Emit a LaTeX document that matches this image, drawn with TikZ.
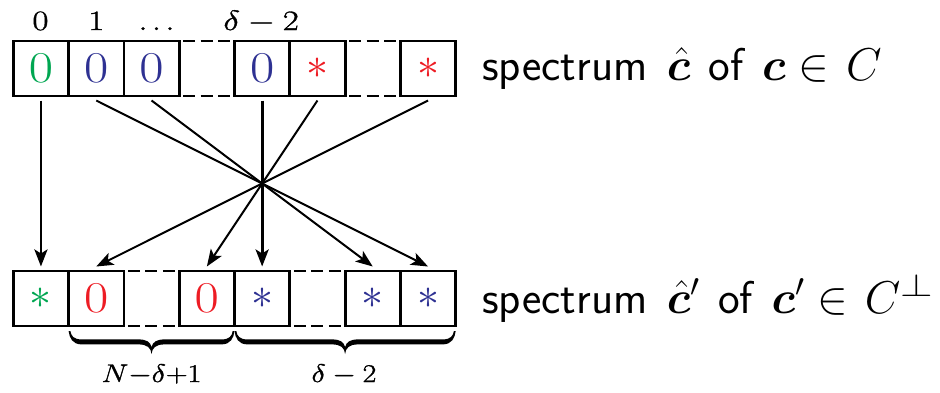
\RequirePackage{fix-cm}
\documentclass[tikz,border=0pt]{standalone}
\usepackage{amsmath,bm}
\usetikzlibrary{arrows.meta,calc}
\definecolor{cgreen}{RGB}{0,166,81}
\definecolor{cblue}{RGB}{46,49,146}
\definecolor{cred}{RGB}{237,28,36}
\newcommand\wideglyph[2]{\scalebox{#1}[1]{#2}}
\newcommand\heavytext[1]{\special{pdf:literal q 2 Tr 0.3 w}#1\special{pdf:literal Q}}
\begin{document}
\begin{tikzpicture}[x=1pt,y=-1pt,
  cell/.style={draw, line width=2.8pt, minimum width=55.3pt, minimum height=55pt, inner sep=0pt, outer sep=0pt, font=\fontsize{44}{50}\selectfont},
  gapline/.style={line width=2.8pt, dash pattern=on 12pt off 5.5pt, shorten <=4pt, shorten >=4pt},
  conn/.style={line width=2pt, -{Stealth[length=17pt,width=13pt,inset=4pt]}},
  vconn/.style={conn, line width=2.8pt},
  idx/.style={font=\fontsize{28}{32}\selectfont, anchor=base, inner sep=0pt},
  lbl/.style={font=\fontsize{46}{54}\selectfont\sffamily, anchor=base west, inner sep=0pt},
  blbl/.style={font=\fontsize{25.5}{28}\selectfont, anchor=base, inner sep=0pt},
  tbrace/.pic={
    \fill (0,0) .. controls (0.8,7) and (4,13.4) .. (13,13.4)
      -- ({#1/2-13},13.4) .. controls ({#1/2-4},13.4) and ({#1/2-0.6},17) .. ({#1/2},23)
      .. controls ({#1/2+0.6},17) and ({#1/2+4},13.4) .. ({#1/2+13},13.4)
      -- ({#1-13},13.4) .. controls ({#1-4},13.4) and ({#1-0.8},7) .. (#1,0)
      -- ({#1-1.8},0) .. controls ({#1-2.6},5) and ({#1-5},8.4) .. ({#1-13},8.4)
      -- ({#1/2+13},8.4) .. controls ({#1/2+5},8.4) and ({#1/2+1.2},11) .. ({#1/2},16)
      .. controls ({#1/2-1.2},11) and ({#1/2-5},8.4) .. ({#1/2-13},8.4)
      -- (13,8.4) .. controls (5,8.4) and (2.6,5) .. (1.8,0) -- cycle;
  }
]
\useasboundingbox (0,0) rectangle (940,392);
% top row
\node[cell, text=cgreen] (t0) at (40.95,68.5) {\wideglyph{1.2}{$0$}};
\node[cell, text=cblue]  (t1) at (96.25,68.5) {\wideglyph{1.2}{$0$}};
\node[cell, text=cblue]  (t2) at (151.55,68.5) {\wideglyph{1.2}{$0$}};
\node[cell, text=cblue]  (t4) at (262.15,68.5) {\wideglyph{1.2}{$0$}};
\node[cell, text=cred]   (t5) at (317.45,68.5) {$\ast$};
\node[cell, text=cred]   (t7) at (428.05,68.5) {$\ast$};
% bottom row
\node[cell, text=cgreen] (b0) at (40.95,298.5) {$\ast$};
\node[cell, text=cred]   (b1) at (96.25,298.5) {\wideglyph{1.2}{$0$}};
\node[cell, text=cred]   (b3) at (206.85,298.5) {\wideglyph{1.2}{$0$}};
\node[cell, text=cblue]  (b4) at (262.15,298.5) {$\ast$};
\node[cell, text=cblue]  (b6) at (372.75,298.5) {$\ast$};
\node[cell, text=cblue]  (b7) at (428.05,298.5) {$\ast$};
% dashed gaps
\draw[gapline] (t2.north east) -- (t4.north west);
\draw[gapline] (t2.south east) -- (t4.south west);
\draw[gapline] (t5.north east) -- (t7.north west);
\draw[gapline] (t5.south east) -- (t7.south west);
\draw[gapline] (b1.north east) -- (b3.north west);
\draw[gapline] (b1.south east) -- (b3.south west);
\draw[gapline] (b4.north east) -- (b6.north west);
\draw[gapline] (b4.south east) -- (b6.south west);
% index labels
\node[idx] (i0) at ([yshift=11pt,xshift=-0.5pt]t0.north) {\heavytext{\wideglyph{1.25}{$0$}}};
\node[idx] (i1) at ([yshift=11pt]t1.north) {\heavytext{\wideglyph{1.25}{$1$}}};
\node[idx] (i2) at ([yshift=11pt,xshift=5pt]t2.north) {\heavytext{\wideglyph{1.1}{$\ldots$}}};
\node[idx] (i4) at ([yshift=11pt,xshift=-1pt]t4.north) {\heavytext{\wideglyph{1.25}{$\delta-2$}}};
% connector ends
\foreach \k in {0,1,2,4,5,7} \coordinate (s\k) at ([yshift=-4.5pt]t\k.south);
\foreach \k in {0,1,3,4,6,7} \coordinate (e\k) at ([yshift=4.5pt]b\k.north);
\draw[vconn] (s0) -- (e0);
\draw[vconn] (s4) -- (e4);
\draw[conn] (s1) -- (e7);
\draw[conn] (s2) -- (e6);
\draw[conn] (s5) -- (e3);
\draw[conn] (s7) -- (e1);
% braces
\pic (br1) at ([yshift=-5pt]b1.south west) {tbrace=165.9};
\pic (br2) at ([yshift=-5pt]b4.south west) {tbrace=221.2};
\node[blbl] (n1) at (151.5,382) {\heavytext{\wideglyph{1.18}{${N}{-}{\delta}{+}{1}$}}};
\node[blbl] (n2) at (344,382) {\heavytext{\wideglyph{1.18}{$\delta-2$}}};
% right labels
\node[lbl] (top) at (482,80) {spectrum\hspace{5pt} $\hat{\bm c}$\hspace{4pt} of\hspace{4pt} $\bm c\in\hspace{4pt} C$};
\node[lbl] (bot) at (482,313.3) {spectrum\hspace{5pt} $\hat{\bm c}'$\hspace{4pt} of\hspace{4pt} $\bm c'\in\hspace{4pt} C^{\wideglyph{1.3}{$\scriptstyle\perp$}}$};
\end{tikzpicture}
\end{document}
